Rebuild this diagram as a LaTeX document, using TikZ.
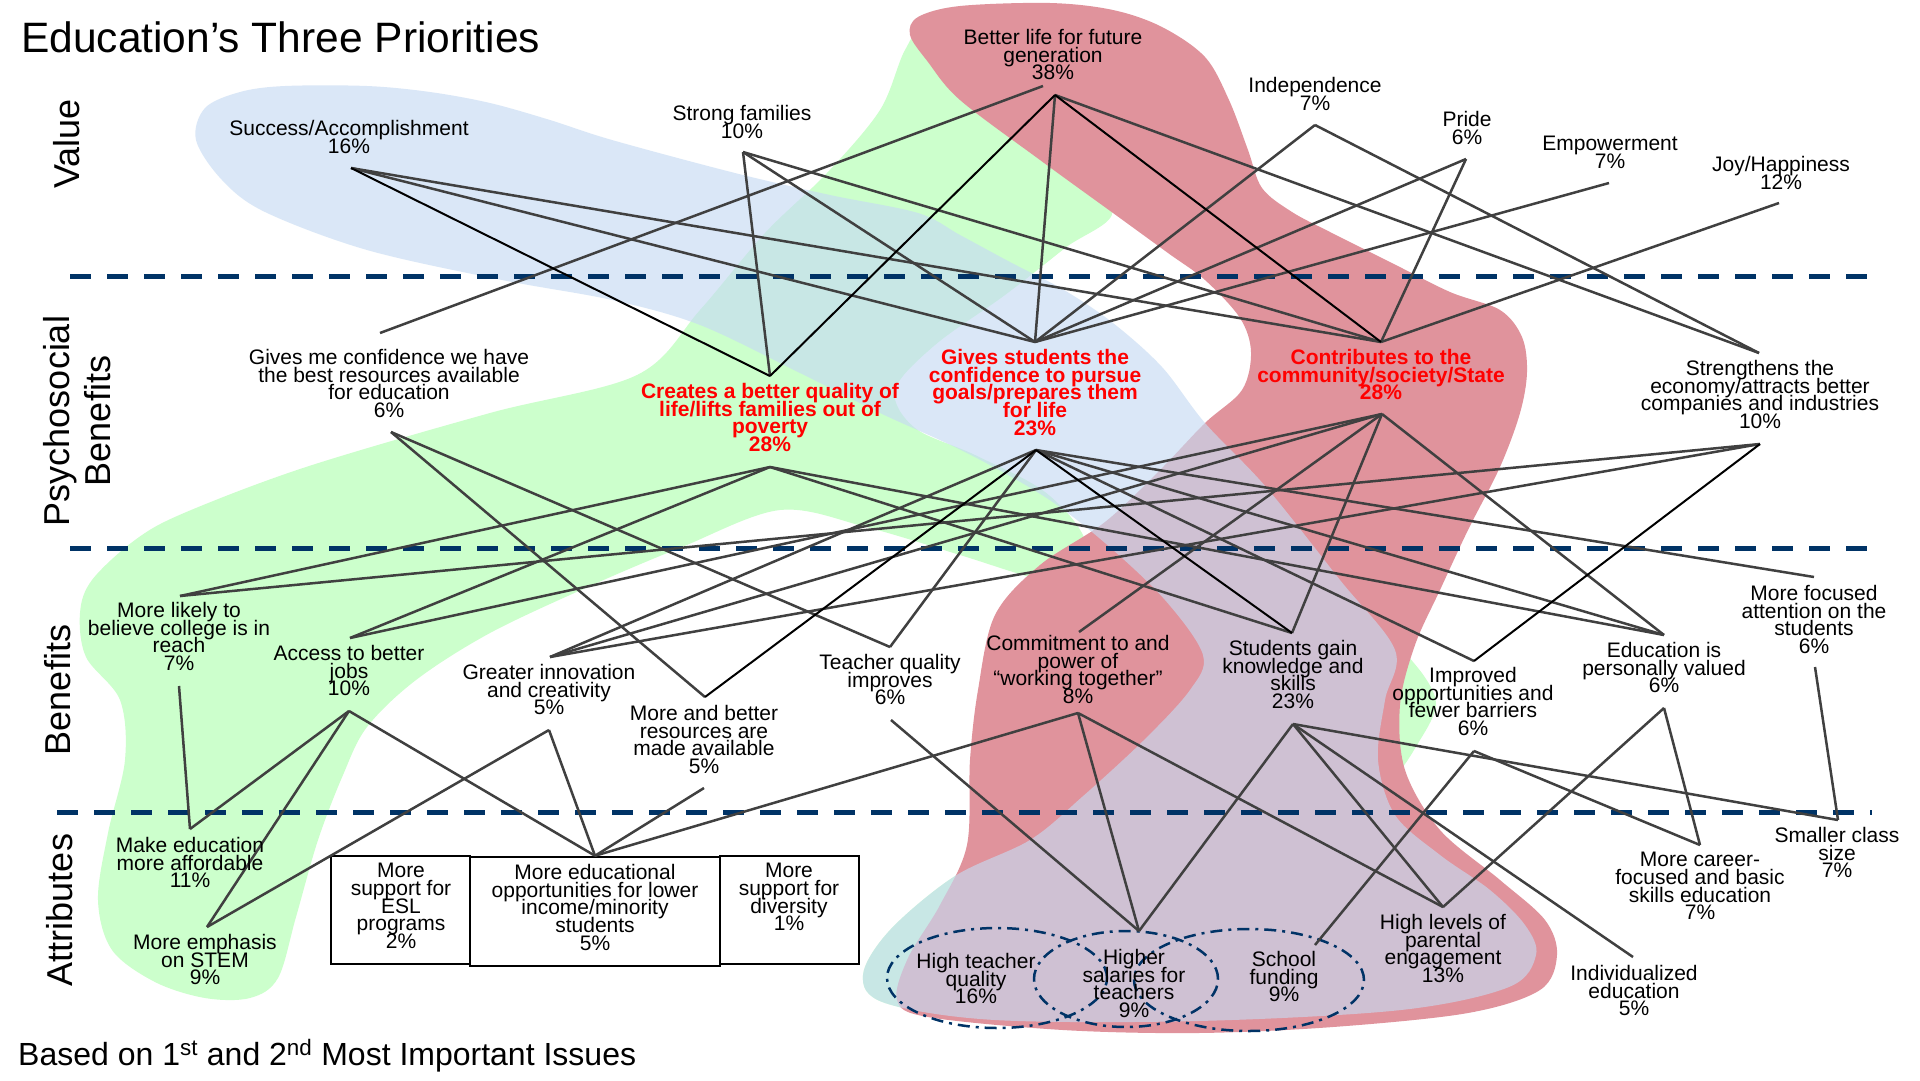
\documentclass[tikz,border=0pt]{standalone}
\usepackage{fontspec}
\setmainfont{Liberation Sans}
\definecolor{cGreen}{RGB}{204,255,204}
\definecolor{cRed}{RGB}{224,147,156}
\definecolor{cBlue}{RGB}{198,219,243}
\definecolor{cNavy}{RGB}{0,51,102}
\definecolor{cGray}{RGB}{64,64,64}
\newcommand{\tightlines}{\setlength{\lineskiplimit}{-200pt}\setlength{\lineskip}{0pt}}
\newcommand{\bluepath}{plot[smooth cycle, tension=0.55] coordinates {
 (196,140) (205,108) (240,92) (285,86) (367,86) (430,92) (490,103) (550,120)
 (612,140) (735,173) (830,195) (918,213) (960,235) (1010,262) (1064,290)
 (1113,323) (1162,367) (1205,423) (1266,487) (1340,580) (1395,650) (1385,700)
 (1378,760) (1395,815) (1440,855) (1490,890) (1525,925) (1536,955) (1509,987)
 (1401,1010) (1198,1021) (995,1020) (885,1003) (863,975) (890,930) (955,876)
 (1030,840) (1082,797) (1144,740) (1190,690) (1203,655) (1165,600) (1105,543)
 (1045,497) (965,452) (880,413) (800,373) (700,325) (612,300) (502,280)
 (367,250) (265,212) (222,180)}}
\begin{document}
\tightlines
\begin{tikzpicture}[x=1pt,y=-1pt,
  lbl/.style={align=center,inner sep=0pt,anchor=north,font=\fontsize{21}{17.7}\selectfont\tightlines},
  rlbl/.style={lbl,text=red,font=\bfseries\fontsize{21}{17.7}\selectfont\tightlines},
  hdr/.style={align=center,inner sep=0pt,rotate=90,font=\fontsize{36}{41}\selectfont},
  gl/.style={draw=cGray,line width=2.5pt},
  bk/.style={draw=black,line width=2pt},
  sepline/.style={draw=cNavy,line width=5pt,dash pattern=on 21pt off 16pt},
  boxst/.style={draw=black,line width=2.5pt,fill=white,inner sep=0pt},
  ellst/.style={draw=cNavy,line width=2.5pt,dash pattern=on 12pt off 6pt on 3pt off 6pt},
]
\useasboundingbox (0,0) rectangle (1920,1080);
\fill[white] (0,0) rectangle (1920,1080);

% ---------- background blobs ----------
\fill[cGreen] plot[smooth cycle, tension=0.55] coordinates {
 (930,22) (962,95) (1040,158) (1112,210) (1065,248) (1005,295) (935,345) (895,390)
 (915,428) (975,455) (1045,492) (1085,540) (1075,585) (1030,577) (960,555) (866,527)
 (780,510) (682,547) (590,586) (490,633) (416,680) (367,727) (343,775) (318,840)
 (296,917) (278,978) (250,998) (205,998) (155,982) (112,950) (98,900) (108,833)
 (125,760) (120,700) (86,657) (80,613) (92,580) (135,540) (184,513) (306,467)
 (490,413) (637,375) (700,310) (765,233) (827,173) (880,110) (905,50)};
\begin{scope}
  \clip (840,640) rectangle (1600,1040);
  \fill[cGreen] \bluepath;
\end{scope}
\fill[cGreen] plot[smooth cycle, tension=0.55] coordinates {
 (1392,650) (1418,668) (1436,703) (1420,740) (1392,775) (1378,720)};
\fill[cRed] plot[smooth cycle, tension=0.55] coordinates {
 (918,17) (960,6) (1050,3) (1113,10) (1162,27) (1205,57) (1229,100) (1248,150)
 (1262,188) (1292,212) (1330,232) (1390,262) (1450,292) (1500,310) (1522,337)
 (1527,372) (1520,413) (1500,467) (1468,530) (1440,590) (1415,645) (1400,705)
 (1405,770) (1440,830) (1500,880) (1545,920) (1557,955) (1540,990) (1468,1013)
 (1333,1027) (1198,1033) (1063,1030) (928,1017) (897,1000) (908,958) (940,905)
 (967,845) (970,760) (978,690) (995,615) (1040,565) (1105,522) (1160,470)
 (1205,423) (1242,390) (1251,352) (1240,318) (1205,280) (1168,253) (1113,213)
 (1040,160) (960,100) (928,62) (910,35)};
\fill[cBlue,fill opacity=0.645] \bluepath;

% ---------- separators ----------
\draw[sepline] (70,276) -- (1882,276);
\draw[sepline] (70,548) -- (1882,548);
\draw[sepline] (57,812) -- (1872,812);

% ---------- ellipses ----------
\draw[ellst] (997,978) ellipse [x radius=110pt, y radius=50pt];
\draw[ellst] (1126,979) ellipse [x radius=92pt, y radius=48pt];
\draw[ellst] (1249,980) ellipse [x radius=115pt, y radius=51pt];

% ---------- boxes ----------
\node[boxst, minimum width=139pt, minimum height=108pt] (eslbox) at (400.5,910) {};
\node[boxst, minimum width=250pt, minimum height=109pt] (edubox) at (595,911.5) {};
\node[boxst, minimum width=139pt, minimum height=108pt] (divbox) at (789.5,910) {};

% ---------- connector anchor points ----------
\coordinate (succ-o) at (351,168);
\coordinate (strong-o) at (743,152);
\coordinate (better-o) at (1055,95);
\coordinate (better-o2) at (1043,86);
\coordinate (indep-o) at (1315,125);
\coordinate (pride-o) at (1466,159);
\coordinate (empow-o) at (1609,183);
\coordinate (joy-o) at (1779,203);
\coordinate (conf-i) at (380,333);
\coordinate (creates-i) at (770,376);
\coordinate (gives-i) at (1035,342);
\coordinate (contrib-i) at (1381,342);
\coordinate (strength-i) at (1759,353);
\coordinate (conf-o) at (391,432);
\coordinate (creates-o) at (770,467);
\coordinate (gives-o) at (1036,450);
\coordinate (contrib-o) at (1382,414);
\coordinate (strength-o) at (1760,444);
\coordinate (likely-i) at (180,596);
\coordinate (access-i) at (350,638);
\coordinate (greater-i) at (550,657);
\coordinate (resources-i) at (705,697);
\coordinate (teacher-i) at (890,647);
\coordinate (commit-i) at (1079,632);
\coordinate (students-i) at (1292,633);
\coordinate (improved-i) at (1474,661);
\coordinate (valued-i) at (1664,635);
\coordinate (focused-i) at (1814,577);
\coordinate (likely-o) at (179,686);
\coordinate (access-o) at (349,711);
\coordinate (greater-o) at (549,730);
\coordinate (resources-o) at (704,788);
\coordinate (teacher-o) at (891,720);
\coordinate (commit-o) at (1078,713);
\coordinate (students-o) at (1293,724);
\coordinate (improved-o) at (1474,751);
\coordinate (valued-o) at (1664,708);
\coordinate (focused-o) at (1815,667);
\coordinate (afford-i) at (190,829);
\coordinate (stem-i) at (207,927);
\coordinate (salaries-i) at (1139,931);
\coordinate (school-i) at (1315,945);
\coordinate (parental-i) at (1443,907);
\coordinate (career-i) at (1700,845);
\coordinate (smaller-i) at (1838,820);
\coordinate (indiv-i) at (1633,957);

% ---------- connectors ----------
\foreach \a/\b in {succ-o/gives-i, succ-o/contrib-i, strong-o/creates-i, strong-o/gives-i,
  strong-o/contrib-i, better-o/gives-i, better-o/strength-i, better-o2/conf-i,
  indep-o/gives-i, indep-o/strength-i, pride-o/gives-i, pride-o/contrib-i,
  empow-o/gives-i, joy-o/contrib-i,
  conf-o/resources-i, conf-o/teacher-i, creates-o/likely-i, creates-o/access-i,
  creates-o/students-i, creates-o/valued-i, gives-o/greater-i, gives-o/teacher-i,
  gives-o/improved-i, gives-o/valued-i, gives-o/focused-i, contrib-o/access-i,
  contrib-o/greater-i, contrib-o/commit-i, contrib-o/students-i, contrib-o/valued-i,
  strength-o/likely-i, strength-o/greater-i,
  likely-o/afford-i, access-o/afford-i, access-o/stem-i, access-o/edubox.north,
  greater-o/stem-i, greater-o/edubox.north, resources-o/edubox.north, commit-o/edubox.north,
  teacher-o/salaries-i, commit-o/salaries-i, commit-o/parental-i, students-o/salaries-i,
  students-o/parental-i, students-o/indiv-i, students-o/smaller-i, improved-o/school-i,
  improved-o/career-i, valued-o/parental-i, valued-o/career-i, focused-o/smaller-i}
  \draw[gl] (\a) -- (\b);
\foreach \a/\b in {succ-o/creates-i, better-o/creates-i, better-o/contrib-i,
  gives-o/resources-i, gives-o/students-i, strength-o/improved-i}
  \draw[bk] (\a) -- (\b);

% ---------- headings ----------
\node[anchor=base west, inner sep=0pt, font=\fontsize{42.5}{50}\selectfont] (title) at (21,52) {Education’s Three Priorities};
\node[anchor=base west, inner sep=0pt, font=\fontsize{32}{36}\selectfont] (note) at (18,1065) {Based on 1\textsuperscript{st} and 2\textsuperscript{nd} Most Important Issues};
\node[hdr] (hvalue) at (67,144) {Value};
\node[hdr] (hpsych) at (77,421) {Psychosocial\\Benefits};
\node[hdr] (hben) at (58,690) {Benefits};
\node[hdr] (hattr) at (60,910) {Attributes};

% ---------- value row ----------
\node[lbl] (succ) at (349,120) {Success/Accomplishment\\16\%};
\node[lbl] (strong) at (742,105) {Strong families\\10\%};
\node[lbl] (better) at (1053,29) {Better life for future\\generation\\38\%};
\node[lbl] (indep) at (1315,77) {Independence\\7\%};
\node[lbl] (pride) at (1467,111) {Pride\\6\%};
\node[lbl] (empow) at (1610,136) {Empowerment\\7\%};
\node[lbl] (joy) at (1781,156) {Joy/Happiness\\12\%};

% ---------- psychosocial row ----------
\node[lbl] (conf) at (389,349) {Gives me confidence we have\\the best resources available\\for education\\6\%};
\node[rlbl] (creates) at (770,383) {Creates a better quality of\\life/lifts families out of\\poverty\\28\%};
\node[rlbl] (gives) at (1035,349) {Gives students the\\confidence to pursue\\goals/prepares them\\for life\\23\%};
\node[rlbl] (contrib) at (1381,349) {Contributes to the\\community/society/State\\28\%};
\node[lbl] (strength) at (1760,360) {Strengthens the\\economy/attracts better\\companies and industries\\10\%};

% ---------- benefits row ----------
\node[lbl] (likely) at (179,602) {More likely to\\believe college is in\\reach\\7\%};
\node[lbl] (access) at (349,645) {Access to better\\jobs\\10\%};
\node[lbl] (greater) at (549,664) {Greater innovation\\and creativity\\5\%};
\node[lbl] (resources) at (704,705) {More and better\\resources are\\made available\\5\%};
\node[lbl] (teacher) at (890,654) {Teacher quality\\improves\\6\%};
\node[lbl] (commit) at (1078,635) {Commitment to and\\power of\\“working together”\\8\%};
\node[lbl] (students) at (1293,640) {Students gain\\knowledge and\\skills\\23\%};
\node[lbl] (improved) at (1473,667) {Improved\\opportunities and\\fewer barriers\\6\%};
\node[lbl] (valued) at (1664,642) {Education is\\personally valued\\6\%};
\node[lbl] (focused) at (1814,585) {More focused\\attention on the\\students\\6\%};

% ---------- attributes row ----------
\node[lbl] (afford) at (190,837) {Make education\\more affordable\\11\%};
\node[lbl] (stem) at (205,934) {More emphasis\\on STEM\\9\%};
\node[lbl] (esl) at (401,863) {More\\support for\\ESL\\programs\\2\%};
\node[lbl] (edu) at (595,864) {More educational\\opportunities for lower\\income/minority\\students\\5\%};
\node[lbl] (div) at (789,863) {More\\support for\\diversity\\1\%};
\node[lbl] (hightq) at (976,953) {High teacher\\quality\\16\%};
\node[lbl] (salaries) at (1134,949) {Higher\\salaries for\\teachers\\9\%};
\node[lbl] (school) at (1284,951) {School\\funding\\9\%};
\node[lbl] (parental) at (1443,914) {High levels of\\parental\\engagement\\13\%};
\node[lbl] (career) at (1700,852) {More career-\\focused and basic\\skills education\\7\%};
\node[lbl] (smaller) at (1837,827) {Smaller class\\size\\7\%};
\node[lbl] (indiv) at (1634,965) {Individualized\\education\\5\%};
\end{tikzpicture}
\end{document}
